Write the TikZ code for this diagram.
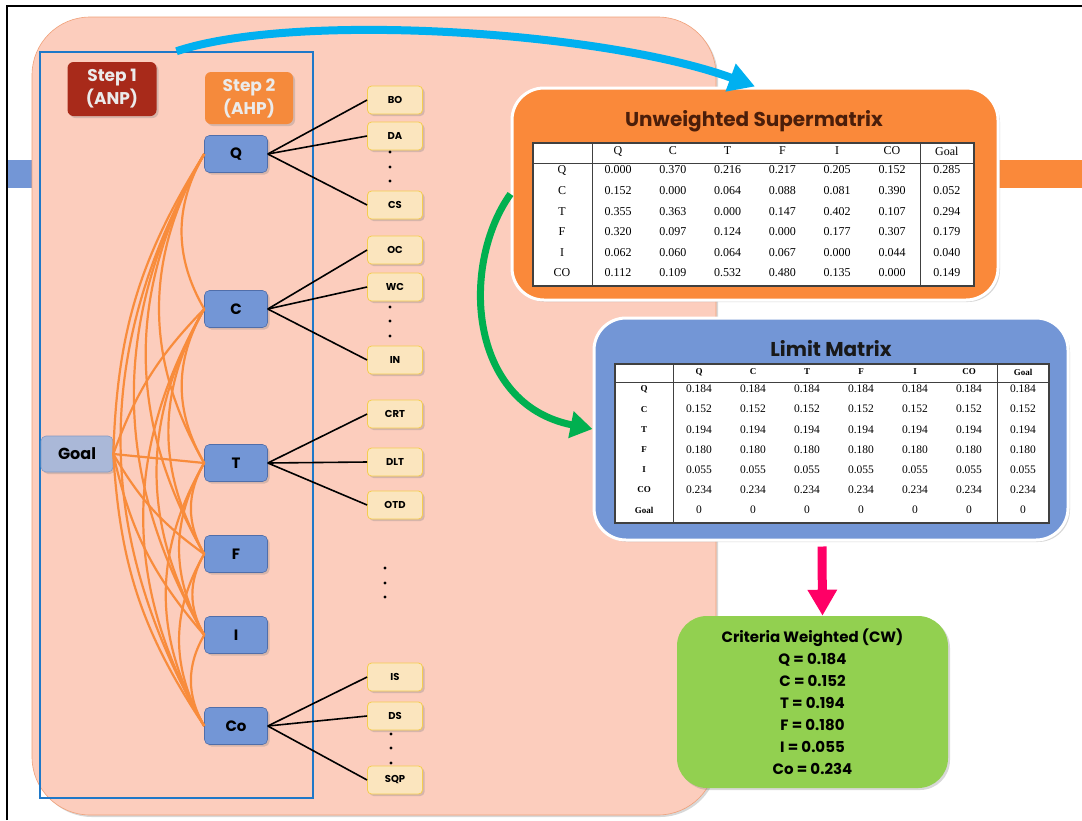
\documentclass[tikz,border=0pt]{standalone}
\usepackage{fontspec}
\setmainfont{Liberation Serif}
\newfontfamily\gothic{Poppins}
\usetikzlibrary{arrows.meta,shadows}
\definecolor{slidebg}{RGB}{252,205,189}
\definecolor{slideedge}{RGB}{240,160,120}
\definecolor{framblue}{RGB}{30,120,200}
\definecolor{anpred}{RGB}{168,42,26}
\definecolor{ahporange}{RGB}{245,138,60}
\definecolor{critblue}{RGB}{115,150,214}
\definecolor{critedge}{RGB}{80,110,170}
\definecolor{goalblue}{RGB}{170,184,216}
\definecolor{leafcream}{RGB}{251,229,190}
\definecolor{leafedge}{RGB}{245,205,80}
\definecolor{linkorange}{RGB}{248,140,60}
\definecolor{uworange}{RGB}{250,137,58}
\definecolor{titlebrown}{RGB}{75,30,10}
\definecolor{cwgreen}{RGB}{146,208,80}
\definecolor{skyblue}{RGB}{0,176,240}
\definecolor{arrowgreen}{RGB}{0,176,80}
\definecolor{hotpink}{RGB}{255,0,102}

\begin{document}
\begin{tikzpicture}[x=1pt,y=-1pt,semithick]
\tikzstyle{softshadow}=[drop shadow={shadow xshift=2pt,shadow yshift=-2pt,opacity=0.3}]
\tikzstyle{stepbox}=[rectangle,rounded corners=6,align=center,text=white!92!black,
  font=\gothic\bfseries\fontsize{17}{23}\selectfont,softshadow]
\tikzstyle{crit}=[rectangle,rounded corners=5,fill=critblue,draw=critedge,
  minimum width=63,minimum height=37,font=\gothic\bfseries\fontsize{15}{15}\selectfont,softshadow]
\tikzstyle{leaf}=[rectangle,rounded corners=4,fill=leafcream,draw=leafedge,thick,
  minimum width=55,minimum height=28,font=\gothic\bfseries\fontsize{10}{10}\selectfont,softshadow]
\tikzstyle{matbox}=[rectangle,rounded corners=32,draw=white,line width=3pt,softshadow]
\tikzstyle{mattitle}=[font=\gothic\bfseries\fontsize{20}{20}\selectfont]
\tikzstyle{tabframe}=[rectangle,fill=white,draw=black!75,line width=1.2pt,inner sep=0]
\tikzstyle{uwcell}=[font=\fontsize{12}{12}\selectfont,inner sep=0]
\tikzstyle{limcell}=[font=\fontsize{11.5}{12}\selectfont,inner sep=0]
\tikzstyle{limhead}=[font=\bfseries\fontsize{9}{9}\selectfont,inner sep=0]
\tikzstyle{link}=[draw=linkorange,line width=2.2pt]
\tikzstyle{branch}=[draw=black,line width=1.6pt]

\useasboundingbox (0,0) rectangle (1082,820);
\fill[white] (0,0) rectangle (1082,820);
\draw[line width=2pt] (7,820) -- (7,6) -- (1082,6);
% edges of the slides next to this one
\fill[critblue] (8,160) rectangle (32,188);
\fill[uworange] (997,160) rectangle (1082,188);

% slide body
\draw[slideedge,fill=slidebg,rounded corners=58,softshadow] (32,17) rectangle (716,815);
\node[draw=framblue,line width=1.5pt,minimum width=273,minimum height=746,inner sep=0] (ahpframe) at (176.5,425) {};

\node[stepbox,fill=anpred,minimum width=89,minimum height=54] (step1) at (112,89) {Step 1\\(ANP)};
\node[stepbox,fill=ahporange,minimum width=88,minimum height=52] (step2) at (249,98) {Step 2\\(AHP)};

% goal and criteria
\node[crit,fill=goalblue,draw=critedge!70,minimum width=72,minimum height=36,font=\gothic\bfseries\fontsize{16}{16}\selectfont] (goal) at (77,454) {Goal};
\node[crit] (cq)  at (236,154) {Q};
\node[crit] (cc)  at (236,309) {C};
\node[crit] (ct)  at (236,463) {T};
\node[crit] (cf)  at (236,554) {F};
\node[crit] (ci)  at (236,635) {I};
\node[crit] (cco) at (236,726) {Co};

% sub-criteria
\node[leaf] (bo)  at (395,100) {BO};
\node[leaf] (da)  at (395,136) {DA};
\node[leaf] (cs)  at (395,205) {CS};
\node[leaf] (oc)  at (395,250) {OC};
\node[leaf] (wc)  at (395,287) {WC};
\node[leaf] (inv) at (395,360) {IN};
\node[leaf] (crt) at (395,414) {CRT};
\node[leaf] (dlt) at (395,462) {DLT};
\node[leaf] (otd) at (395,505) {OTD};
\node[leaf] (is)  at (395,677) {IS};
\node[leaf] (ds)  at (395,716) {DS};
\node[leaf] (sqp) at (395,780) {SQP};
\foreach \x/\y in {390/152,390/167,390/181,390/307,390/321,390/336,
                   385/568,385/583,385/597,391/734,391/748,391/763}
  \fill (\x,\y) circle (1.6);

% network links (ANP)
\path[every edge/.style=link]
  (goal.east) edge[bend left=15]  (cq.west)
              edge[bend left=12]  (cc.west)
              edge                (ct.west)
              edge[bend right=12] (cf.west)
              edge[bend right=14] (ci.west)
              edge[bend right=15] (cco.west)
  (cq.west) edge[bend right=30] (cc.west)
            edge[bend right=30] (ct.west)
            edge[bend right=30] (cf.west)
            edge[bend right=30] (ci.west)
            edge[bend right=30] (cco.west)
  (cc.west) edge[bend right=30] (ct.west)
            edge[bend right=30] (cf.west)
            edge[bend right=30] (ci.west)
            edge[bend right=30] (cco.west)
  (ct.west) edge[bend right=30] (cf.west)
            edge[bend right=30] (ci.west)
            edge[bend right=30] (cco.west)
  (cf.west) edge[bend right=30] (ci.west)
            edge[bend right=30] (cco.west)
  (ci.west) edge[bend right=30] (cco.west);

% hierarchy (AHP)
\path[every edge/.style=branch]
  (cq.east) edge (bo.west)
            edge (da.west)
            edge (cs.west)
  (cc.east) edge (oc.west)
            edge (wc.west)
            edge (inv.west)
  (ct.east) edge (crt.west)
            edge (dlt.west)
            edge (otd.west)
  (cco.east) edge (is.west)
             edge (ds.west)
             edge (sqp.west);

% unweighted supermatrix
\node[matbox,fill=uworange,minimum width=486,minimum height=212] (uwbox) at (755,194) {};
\node[mattitle,text=titlebrown] (uwtitle) at (754,121) {Unweighted Supermatrix};
\node[tabframe,minimum width=441,minimum height=143] (uwtab) at (753.5,214.5) {};
\draw[black!75,line width=1pt] (533,163) -- (974,163) (592,143) -- (592,286) (920,143) -- (920,286);
\foreach \h [count=\j] in {Q,C,T,F,I,CO,Goal}
  \node[uwcell] at ({563.2+\j*54.8},151) {\h};
\foreach \r/\vals [count=\i] in {
    Q/{0.000,0.370,0.216,0.217,0.205,0.152,0.285},
    C/{0.152,0.000,0.064,0.088,0.081,0.390,0.052},
    T/{0.355,0.363,0.000,0.147,0.402,0.107,0.294},
    F/{0.320,0.097,0.124,0.000,0.177,0.307,0.179},
    I/{0.062,0.060,0.064,0.067,0.000,0.044,0.040},
    CO/{0.112,0.109,0.532,0.480,0.135,0.000,0.149}} {
  \node[uwcell] at (562,{149.4+\i*20.6}) {\r};
  \foreach \v [count=\j] in \vals
    \node[uwcell] at ({563.2+\j*54.8},{149.4+\i*20.6}) {\v};
}

% limit matrix
\node[matbox,fill=critblue,minimum width=474,minimum height=222] (limitbox) at (831,429) {};
\node[mattitle,text=black!90] (limtitle) at (831,349) {Limit Matrix};
\node[tabframe,minimum width=434,minimum height=159] (limtab) at (832,443.5) {};
\draw[black!75,line width=1pt] (615,382) -- (1049,382) (673,364) -- (673,523) (997,364) -- (997,523);
\foreach \h [count=\j] in {Q,C,T,F,I,CO,Goal}
  \node[limhead] at ({645+\j*54},372) {\h};
\foreach \r/\v [count=\i] in {Q/0.184,C/0.152,T/0.194,F/0.180,I/0.055,CO/0.234,Goal/0} {
  \node[limhead] at (644,{368.8+\i*20.2}) {\r};
  \foreach \j in {1,...,7}
    \node[limcell] at ({645+\j*54},{368.8+\i*20.2}) {\v};
}

% criteria weights
\node[rectangle,rounded corners=30,fill=cwgreen,minimum width=271,minimum height=172,align=center,
  font=\gothic\bfseries\fontsize{15}{22}\selectfont,softshadow] (cw) at (812.5,702)
  {Criteria Weighted (CW)\\Q = 0.184\\C = 0.152\\T = 0.194\\F = 0.180\\I = 0.055\\Co = 0.234};

% flow arrows
\draw[skyblue,line width=8pt,-{Triangle[length=26pt,width=28pt]}]
  (ahpframe.north) .. controls +(120,-40) and +(-150,-55) .. (uwbox.north);
\draw[arrowgreen,line width=7pt,-{Triangle[length=22pt,width=26pt]}]
  (uwbox.west) .. controls +(-50,70) and +(-125,-25) .. (limitbox.west);
\draw[hotpink,line width=9pt,-{Triangle[length=26pt,width=28pt]}]
  ([xshift=-9pt,yshift=-5pt]limitbox.south) -- ([xshift=10pt]cw.north);
\end{tikzpicture}
\end{document}
